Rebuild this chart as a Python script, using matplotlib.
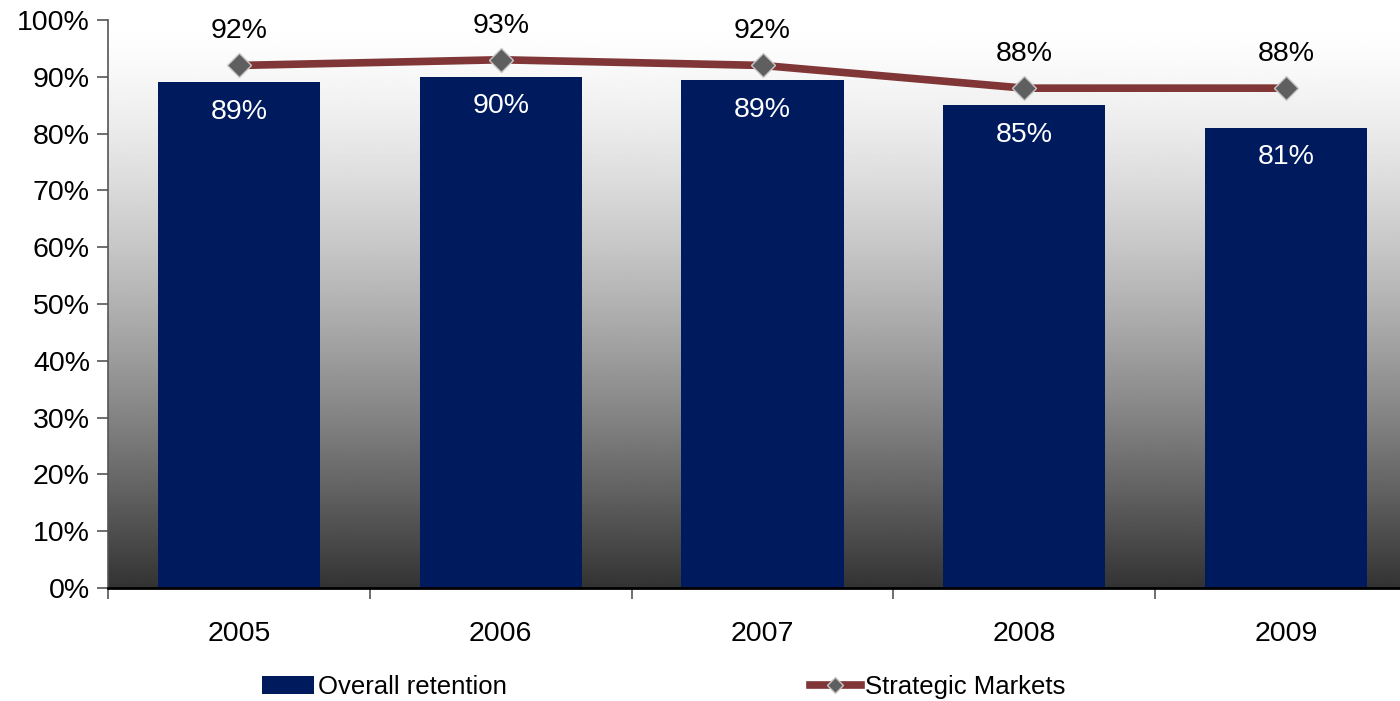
import matplotlib.pyplot as plt
import numpy as np
from matplotlib.ticker import PercentFormatter

plt.rcParams['font.family'] = ['Liberation Sans', 'DejaVu Sans']

years = ['2005', '2006', '2007', '2008', '2009']
overall = [89, 90, 89.4, 85, 81]
overall_labels = ['89%', '90%', '89%', '85%', '81%']
strategic = [92, 93, 92, 88, 88]
strategic_labels = ['92%', '93%', '92%', '88%', '88%']

fig = plt.figure(figsize=(14, 7.01), dpi=100)
# plot area runs slightly past the right edge of the image
ax = fig.add_axes([108 / 1400, (701 - 588) / 701, 1309 / 1400, 568 / 701])

x = np.arange(len(years))

# gradient background: white at the top, dark gray at the bottom
t = np.linspace(0, 1, 400).reshape(-1, 1)
shade = 1 - 0.8 * t ** 1.4
ax.imshow(np.repeat(shade, 2, axis=1), cmap='gray', vmin=0, vmax=1,
          extent=[-0.5, len(years) - 0.5, 0, 100], origin='upper',
          aspect='auto', zorder=0)
ax.set_xlim(-0.5, len(years) - 0.5)
ax.set_ylim(0, 100)

bars = ax.bar(x, overall, width=0.62, color='#001A5E', zorder=2,
              label='Overall retention')
line, = ax.plot(x, strategic, color='#803636', lw=5.5, marker='D', markersize=12,
                markerfacecolor='#5F5F5F', markeredgecolor='#C8C8C8',
                markeredgewidth=1, zorder=3, label='Strategic Markets')

# data labels: white inside the bars, black above the line markers
for xi, v, lab in zip(x, overall, overall_labels):
    ax.text(xi, v - 5.2, lab, color='white', ha='center', va='center',
            fontsize=20.5, zorder=4)
for xi, v, lab in zip(x, strategic, strategic_labels):
    ax.text(xi, v + 6.0, lab, color='black', ha='center', va='center',
            fontsize=20.5, zorder=4)

ax.set_xticks(x)
ax.set_xticklabels(years, fontsize=20.5)
ax.set_xticks(np.arange(-0.5, len(years), 1), minor=True)
ax.tick_params(axis='x', which='major', length=0, pad=24)
ax.tick_params(axis='x', which='minor', length=8, color='#555555', width=1.2)
ax.set_yticks(np.arange(0, 101, 10))
ax.yaxis.set_major_formatter(PercentFormatter(decimals=0))
ax.tick_params(axis='y', labelsize=20.5, length=8, color='#555555', width=1.2, pad=5)

for side in ['top', 'right']:
    ax.spines[side].set_visible(False)
ax.spines['left'].set_color('#555555')
ax.spines['left'].set_linewidth(1.2)
ax.spines['bottom'].set_color('black')
ax.spines['bottom'].set_linewidth(2)

fig.legend([bars, line], ['Overall retention', 'Strategic Markets'],
           loc='center left', bbox_to_anchor=(252 / 1400, 1 - 687 / 701),
           ncol=2, frameon=False, fontsize=18.5, handlelength=2.0,
           handletextpad=0.15, columnspacing=11.8, borderaxespad=0,
           markerscale=0.7)

plt.savefig('out.png', dpi=100)
